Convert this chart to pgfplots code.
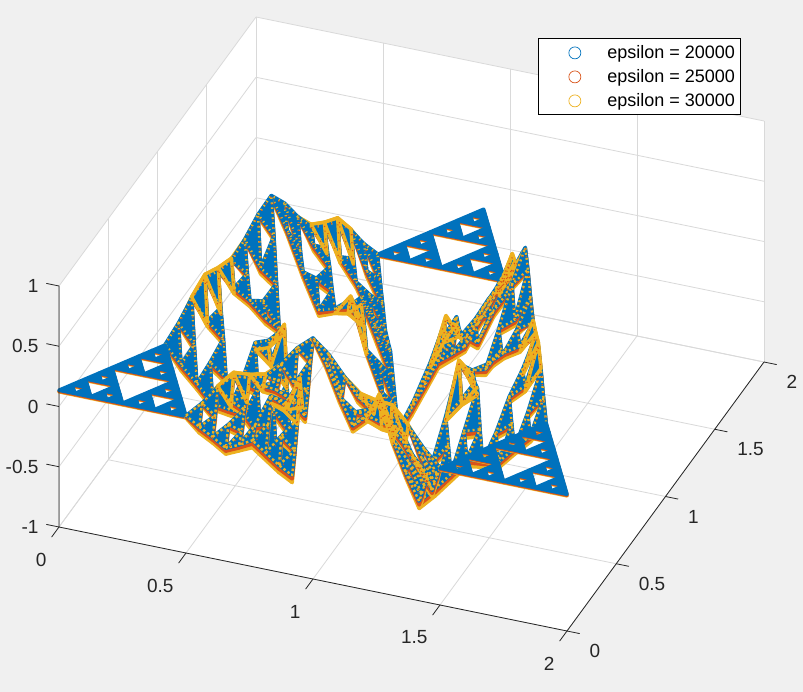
\documentclass[border=0pt]{standalone}
\usepackage{fontspec}
\setmainfont{Liberation Sans}
\usepackage{pgfplots}
\usepackage{pgfplotstable}
\pgfplotsset{compat=1.18}
\definecolor{mb}{RGB}{0,114,189}
\definecolor{mo}{RGB}{217,83,25}
\definecolor{my}{RGB}{237,177,32}
\definecolor{figbg}{RGB}{240,240,240}
\definecolor{tx}{RGB}{38,38,38}
\pgfplotsset{colormap={mb}{color=(mb) color=(mb)},colormap={mo}{color=(mo) color=(mo)},colormap={my}{color=(my) color=(my)}}
% wave: zb zo zy, flat corners: fb fo fy; x,y of the six wavy pieces and three flat corners
\pgfplotstableread{
zb zo zy fb fo fy xA xC yA xB xD yB xE xF yE xL xR xT yT
.14 .13 .12 .135 .127 .122 .5 1.5 0 .25 1.75 .433 .75 1.25 1.299 0 1.5 .75 1.299
.27 .26 .25 .135 .127 .122 .5625 1.4375 0 .2813 1.7187 .4871 .7188 1.2812 1.2449 .0625 1.5625 .8125 1.299
.43 .42 .44 .135 .127 .122 .625 1.375 0 .3125 1.6875 .5413 .6875 1.3125 1.1908 .125 1.625 .875 1.299
.55 .55 .58 .135 .127 .122 .6875 1.3125 0 .3438 1.6562 .5954 .6562 1.3438 1.1366 .1875 1.6875 .9375 1.299
.56 .56 .59 .135 .127 .122 .75 1.25 0 .375 1.625 .6495 .625 1.375 1.0825 .25 1.75 1 1.299
.60 .60 .62 .135 .127 .122 .8125 1.1875 0 .4063 1.5937 .7036 .5937 1.4063 1.0284 .3125 1.8125 1.0625 1.299
.73 .72 .73 .135 .127 .122 .875 1.125 0 .4375 1.5625 .7578 .5625 1.4375 .9743 .375 1.875 1.125 1.299
.89 .88 .87 .135 .127 .122 .9375 1.0625 0 .4688 1.5312 .8119 .5312 1.4688 .9201 .4375 1.9375 1.1875 1.299
1.00 .99 .98 .135 .127 .122 1 1 0 .5 1.5 .866 .5 1.5 .866 .5 2 1.25 1.299
.00 -.025 -.05 .135 .127 .122 .5313 1.4687 .0541 .3125 1.6875 .433 .7813 1.2187 1.2449 .0313 1.5313 .7813 1.3531
.12 .095 .07 .135 .127 .122 .5938 1.4062 .0541 .3438 1.6562 .4871 .75 1.25 1.1908 .0938 1.5938 .8438 1.3531
.27 .245 .22 .135 .127 .122 .6563 1.3437 .0541 .375 1.625 .5413 .7188 1.2812 1.1366 .1563 1.6563 .9063 1.3531
.33 .305 .28 .135 .127 .122 .7188 1.2812 .0541 .4063 1.5937 .5954 .6875 1.3125 1.0825 .2188 1.7188 .9688 1.3531
.45 .425 .40 .135 .127 .122 .7813 1.2187 .0541 .4375 1.5625 .6495 .6563 1.3437 1.0284 .2813 1.7813 1.0313 1.3531
.52 .495 .47 .135 .127 .122 .8438 1.1562 .0541 .4688 1.5312 .7036 .625 1.375 .9743 .3438 1.8438 1.0938 1.3531
.52 .495 .47 .135 .127 .122 .9063 1.0937 .0541 .5 1.5 .7578 .5938 1.4062 .9201 .4063 1.9063 1.1563 1.3531
.74 .72 .70 .135 .127 .122 .9688 1.0312 .0541 .5313 1.4687 .8119 .5625 1.4375 .866 .4688 1.9688 1.2188 1.3531
-.13 -.155 -.18 .135 .127 .122 .5625 1.4375 .1083 .375 1.625 .433 .8125 1.1875 1.1908 .0625 1.5625 .8125 1.4073
.00 -.025 -.05 .135 .127 .122 .625 1.375 .1083 .4063 1.5937 .4871 .7813 1.2187 1.1366 .125 1.625 .875 1.4073
.15 .125 .10 .135 .127 .122 .6875 1.3125 .1083 .4375 1.5625 .5413 .75 1.25 1.0825 .1875 1.6875 .9375 1.4073
.37 .345 .32 .135 .127 .122 .8125 1.1875 .1083 .5 1.5 .6495 .6875 1.3125 .9743 .3125 1.8125 1.0625 1.4073
.32 .295 .27 .135 .127 .122 .875 1.125 .1083 .5313 1.4687 .7036 .6563 1.3437 .9201 .375 1.875 1.125 1.4073
.42 .395 .37 .135 .127 .122 .9375 1.0625 .1083 .5625 1.4375 .7578 .625 1.375 .866 .4375 1.9375 1.1875 1.4073
-.27 -.295 -.32 .135 .127 .122 .5938 1.4062 .1624 .4375 1.5625 .433 .8438 1.1562 1.1366 .0938 1.5938 .8438 1.4614
-.10 -.125 -.15 .135 .127 .122 .6563 1.3437 .1624 .4688 1.5312 .4871 .8125 1.1875 1.0825 .1563 1.6563 .9063 1.4614
.25 .225 .20 .135 .127 .122 .8438 1.1562 .1624 .5625 1.4375 .6495 .7188 1.2812 .9201 .3438 1.8438 1.0938 1.4614
.13 .105 .08 .135 .127 .122 .9063 1.0937 .1624 .5938 1.4062 .7036 .6875 1.3125 .866 .4063 1.9063 1.1563 1.4614
-.29 -.315 -.34 .135 .127 .122 .625 1.375 .2165 .5 1.5 .433 .875 1.125 1.0825 .125 1.625 .875 1.5155
-.10 -.13 -.16 .135 .127 .122 .6875 1.3125 .2165 .5313 1.4687 .4871 .8438 1.1562 1.0284 .1875 1.6875 .9375 1.5155
.17 .14 .11 .135 .127 .122 .75 1.25 .2165 .5625 1.4375 .5413 .8125 1.1875 .9743 .25 1.75 1 1.5155
.14 .11 .08 .135 .127 .122 .8125 1.1875 .2165 .5938 1.4062 .5954 .7813 1.2187 .9201 .3125 1.8125 1.0625 1.5155
.17 .15 .13 .135 .127 .122 .875 1.125 .2165 .625 1.375 .6495 .75 1.25 .866 .375 1.875 1.125 1.5155
-.30 -.33 -.36 .135 .127 .122 .6563 1.3437 .2706 .5625 1.4375 .433 .9063 1.0937 1.0284 .1563 1.6563 .9063 1.5696
-.14 -.17 -.20 .135 .127 .122 .7188 1.2812 .2706 .5938 1.4062 .4871 .875 1.125 .9743 .2188 1.7188 .9688 1.5696
.05 .03 .00 .135 .127 .122 .7813 1.2187 .2706 .625 1.375 .5413 .8438 1.1562 .9201 .2813 1.7813 1.0313 1.5696
.27 .27 .30 .135 .127 .122 .8438 1.1562 .2706 .6563 1.3437 .5954 .8125 1.1875 .866 .3438 1.8438 1.0938 1.5696
-.45 -.48 -.51 .135 .127 .122 .6875 1.3125 .3248 .625 1.375 .433 .9375 1.0625 .9743 .1875 1.6875 .9375 1.6238
-.28 -.31 -.34 .135 .127 .122 .75 1.25 .3248 .6563 1.3437 .4871 .9063 1.0937 .9201 .25 1.75 1 1.6238
-.12 -.14 -.16 .135 .127 .122 .8125 1.1875 .3248 .6875 1.3125 .5413 .875 1.125 .866 .3125 1.8125 1.0625 1.6238
-.60 -.63 -.66 .135 .127 .122 .7188 1.2812 .3789 .6875 1.3125 .433 .9688 1.0312 .9201 .2188 1.7188 .9688 1.6779
-.45 -.47 -.49 .135 .127 .122 .7813 1.2187 .3789 .7188 1.2812 .4871 .9375 1.0625 .866 .2813 1.7813 1.0313 1.6779
-.73 -.76 -.79 .135 .127 .122 .75 1.25 .433 .75 1.25 .433 1 1 .866 .25 1.75 1 1.732
}\verts
\pgfplotsset{
  piece/.style={patch,table/row sep=\\,patch table={0 1 9\\1 2 10\\9 10 17\\2 3 11\\3 4 12\\11 12 19\\17 18 23\\18 19 24\\23 24 27\\4 5 13\\5 6 14\\13 14 20\\6 7 15\\7 8 16\\15 16 22\\20 21 25\\21 22 26\\25 26 31\\27 28 32\\28 29 33\\32 33 36\\29 30 34\\30 31 35\\34 35 38\\36 37 39\\37 38 40\\39 40 41\\},
    shader=faceted,faceted color=mapped color,forget plot,point meta=0,line width=3.6pt,line join=round,colormap name=#1},
  lace/.style={piece=#1,fill opacity=0,line width=3.4pt},
  laceY/.style={lace=my,patch table={29 30 34\\30 31 35\\34 35 38\\2 3 11\\3 4 12\\4 5 13\\}},
  speck/.style={piece=#1,fill opacity=0,line width=2.4pt},
}
% one wavy piece: x column, y column, yellow speck on / off lengths
\newcommand\wave[4]{%
  \addplot3[piece=my] table[x=#1,y=#2,z=zy]{\verts};
  \addplot3[piece=mo] table[x=#1,y=#2,z=zo]{\verts};
  \addplot3[piece=mb] table[x=#1,y=#2,z=zb]{\verts};
  \addplot3[speck=my,dash pattern=on #3pt off #4pt] table[x=#1,y=#2,z=zb]{\verts};
  \addplot3[laceY] table[x=#1,y=#2,z=zy]{\verts};
  \addplot3[speck=mo,dash phase=2pt,line width=1.2pt,dash pattern=on 1pt off 7pt] table[x=#1,y=#2,z=zo]{\verts};
}
\newcommand\flatc[2]{%
  \addplot3[piece=my] table[x=#1,y=#2,z=fy]{\verts};
  \addplot3[piece=mo] table[x=#1,y=#2,z=fo]{\verts};
  \addplot3[piece=mb] table[x=#1,y=#2,z=fb]{\verts};
}
\begin{document}
\begin{tikzpicture}
\useasboundingbox (-59pt,-285.5pt) rectangle (744pt,406.5pt);
\fill[figbg] (-59pt,-285.5pt) rectangle (744pt,406.5pt);
\fill[white] (0pt,120.5pt) -- (197pt,389.5pt) -- (705pt,285.5pt) -- (705pt,44.5pt) -- (508pt,-224.5pt) -- (0pt,-120.5pt) -- cycle;
\begin{axis}[
  at={(0pt,0pt)},anchor=origin,
  x={(254pt,-52pt)},y={(98.5pt,134.5pt)},z={(0pt,120.5pt)},
  xmin=0,xmax=2,ymin=0,ymax=2,zmin=-1,zmax=1,
  xtick={0,0.5,1,1.5,2},ytick={0,0.5,1,1.5,2},ztick={-1,-0.5,0,0.5,1},
  xticklabels={0,0.5,1,1.5,2},yticklabels={0,0.5,1,1.5,2},zticklabels={-1,-0.5,0,0.5,1},
  clip=false,
  grid=major,grid style={draw=black!15,line width=0.8pt},
  axis line style={draw=none},
  major tick length=0pt,
  ticklabel style={font=\fontsize{19}{19}\selectfont,text=tx},
  xticklabel style={anchor=east,xshift=-9pt,yshift=-32.5pt},
  yticklabel style={anchor=west,xshift=19pt,yshift=-20pt},
  zticklabel style={anchor=east,xshift=-17pt},
  point meta min=0,point meta max=1,
  legend style={at={(0.6795,0.965)},anchor=north west,draw=black,fill=white,line width=0.8pt,
    font=\fontsize{18}{18}\selectfont,legend cell align=left,inner xsep=4pt,inner ysep=2pt,
    row sep=0pt,nodes={inner ysep=0pt,minimum height=24pt}},
  legend image code/.code={\path (0pt,-3pt) (62pt,3pt);\draw[#1,line width=0.7pt] (32pt,0pt) circle (6pt);},
]
\addlegendimage{color=mb}
\addlegendentry{epsilon = 20000}
\addlegendimage{color=mo}
\addlegendentry{epsilon = 25000}
\addlegendimage{color=my}
\addlegendentry{epsilon = 30000}
\flatc{xT}{yT}
\wave{xE}{yE}{1.2}{4.4}
\wave{xF}{yE}{2}{3}
\wave{xB}{yB}{1.5}{3.5}
\flatc{xL}{yA}
\wave{xD}{yB}{2}{3}
\wave{xA}{yA}{2.5}{2.5}
\wave{xC}{yA}{2.5}{2.5}
\flatc{xR}{yA}
\draw[tx,line width=0.8pt] (axis cs:0,0,1) -- (axis cs:0,0,-1) -- (axis cs:2,0,-1) -- (axis cs:2,2,-1);
\pgfplotsinvokeforeach{0,0.5,1,1.5,2}{%
  \draw[tx,line width=0.8pt] (axis cs:#1,0,-1) -- (axis cs:#1,-0.075,-1);
  \draw[tx,line width=0.8pt] (axis cs:2,#1,-1) -- (axis cs:2.05,#1,-1);
}
\pgfplotsinvokeforeach{-1,-0.5,0,0.5,1}{%
  \draw[tx,line width=0.8pt] (axis cs:0,0,#1) -- (axis cs:-0.05,0,#1);
}
\end{axis}
\end{tikzpicture}
\end{document}
